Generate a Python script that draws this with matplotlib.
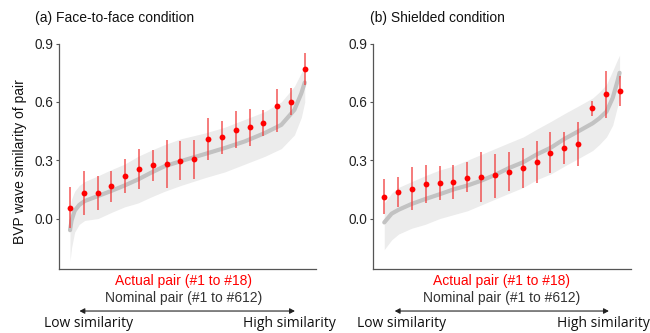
import numpy as np
import matplotlib
matplotlib.use('Agg')
import matplotlib.pyplot as plt

plt.rcParams['font.family'] = ['Liberation Sans', 'DejaVu Sans']

# nominal pairs (sorted), sampled along rank 1..612
rank_a = [1, 5, 13, 25, 39, 74, 107, 143, 178, 211, 247, 289, 352, 404, 456, 508, 551, 585, 603, 612]
nom_a = [-0.06, -0.01, 0.04, 0.07, 0.09, 0.116, 0.141, 0.170, 0.201, 0.235, 0.269, 0.295, 0.332, 0.363,
         0.397, 0.44, 0.482, 0.559, 0.644, 0.70]
nom_a_lo = [-0.22, -0.15, -0.07, -0.03, -0.01, 0.0, 0.03, 0.06, 0.08, 0.11, 0.14, 0.17, 0.21, 0.24,
            0.28, 0.32, 0.36, 0.43, 0.52, 0.60]
nom_a_hi = [0.06, 0.10, 0.14, 0.17, 0.19, 0.22, 0.25, 0.28, 0.32, 0.35, 0.38, 0.41, 0.44, 0.47,
            0.51, 0.55, 0.60, 0.68, 0.75, 0.78]

rank_b = [1, 20, 38, 72, 107, 145, 181, 217, 253, 289, 325, 362, 397, 434, 469, 506, 542, 559, 578, 594, 607, 612]
nom_b = [-0.02, 0.025, 0.045, 0.075, 0.10, 0.125, 0.15, 0.17, 0.195, 0.225, 0.26, 0.29, 0.33, 0.365,
         0.41, 0.45, 0.49, 0.515, 0.55, 0.62, 0.71, 0.75]
nom_b_lo = [-0.16, -0.11, -0.08, -0.05, -0.03, 0.0, 0.02, 0.04, 0.07, 0.10, 0.13, 0.16, 0.20, 0.23,
            0.27, 0.31, 0.35, 0.38, 0.42, 0.48, 0.58, 0.63]
nom_b_hi = [0.08, 0.13, 0.16, 0.19, 0.22, 0.25, 0.27, 0.30, 0.33, 0.36, 0.39, 0.42, 0.46, 0.50,
            0.54, 0.58, 0.62, 0.65, 0.69, 0.76, 0.82, 0.84]

# actual pairs #1..#18
act_a = [0.056, 0.133, 0.133, 0.167, 0.218, 0.256, 0.273, 0.281, 0.295, 0.305, 0.409, 0.419, 0.457,
         0.469, 0.491, 0.580, 0.602, 0.769]
act_a_lo = [-0.051, 0.017, 0.044, 0.085, 0.133, 0.153, 0.193, 0.157, 0.196, 0.205, 0.302, 0.334, 0.363,
            0.375, 0.423, 0.443, 0.532, 0.685]
act_a_hi = [0.162, 0.247, 0.218, 0.247, 0.307, 0.360, 0.353, 0.404, 0.397, 0.406, 0.516, 0.503, 0.554,
            0.566, 0.559, 0.666, 0.672, 0.852]

act_b = [0.112, 0.136, 0.153, 0.176, 0.181, 0.188, 0.210, 0.213, 0.222, 0.242, 0.261, 0.291, 0.338,
         0.363, 0.385, 0.571, 0.639, 0.656]
act_b_lo = [0.022, 0.061, 0.044, 0.078, 0.094, 0.099, 0.136, 0.085, 0.106, 0.141, 0.157, 0.182, 0.232,
            0.283, 0.269, 0.528, 0.518, 0.580]
act_b_hi = [0.201, 0.213, 0.264, 0.274, 0.268, 0.274, 0.290, 0.341, 0.334, 0.344, 0.363, 0.401, 0.445,
            0.443, 0.498, 0.607, 0.759, 0.731]

yticks = [0.0, 0.3, 0.6, 0.9]
titles = ['(a) Face-to-face condition', '(b) Shielded condition']


def panel(ax, rank, nom, lo, hi, act, alo, ahi):
    """
    One panel: nominal band + line, actual pairs with error bars
    """
    ax.fill_between(rank, lo, hi, color='#ececec', lw=0)
    ax.plot(rank, nom, color='#c2c2c2', lw=3.0, solid_capstyle='round')
    act = np.array(act)
    pos = np.linspace(1, 612, len(act))
    err = [act - np.array(alo), np.array(ahi) - act]
    ax.errorbar(pos, act, yerr=err, fmt='none', ecolor='#f03a3a', elinewidth=1.1, alpha=0.85)
    ax.plot(pos, act, 'o', color='#ff0000', ms=4.2, mec='none')
    ax.set_xlim(-29, 641)
    ax.set_ylim(-0.26, 0.9)
    ax.set_yticks(yticks)
    ax.set_yticklabels(['{:.1f}'.format(t) for t in yticks], fontsize=9.8, color='#222222')
    ax.set_xticks([])
    ax.tick_params(axis='y', length=2.5, width=0.8, pad=1.5, color='#555555')
    for s in ['top', 'right']:
        ax.spines[s].set_visible(False)
    for s in ['left', 'bottom']:
        ax.spines[s].set_color('#555555')
        ax.spines[s].set_linewidth(0.9)
    return None


fig = plt.figure(figsize=(6.5, 3.33), dpi=100)
ax1 = fig.add_axes([0.09, 0.192, 0.396, 0.677])
ax2 = fig.add_axes([0.5734, 0.192, 0.397, 0.677])
panel(ax1, rank_a, nom_a, nom_a_lo, nom_a_hi, act_a, act_a_lo, act_a_hi)
panel(ax2, rank_b, nom_b, nom_b_lo, nom_b_hi, act_b, act_b_lo, act_b_hi)

fig.text(0.054, 0.946, titles[0], fontsize=10, va='center', ha='left', color='#111111')
fig.text(0.570, 0.946, titles[1], fontsize=10, va='center', ha='left', color='#111111')
fig.text(0.031, 0.514, 'BVP wave similarity of pair', fontsize=10, rotation=90,
         va='center', ha='center', color='#111111')

for cx, a0, a1, lx, hx in [(0.283, 0.118, 0.458, 0.137, 0.445),
                           (0.772, 0.603, 0.941, 0.618, 0.929)]:
    fig.text(cx, 0.156, 'Actual pair (#1 to #18)', fontsize=10, color='#ff0000', ha='center', va='center')
    fig.text(cx, 0.106, 'Nominal pair (#1 to #612)', fontsize=10, color='#333333', ha='center', va='center')
    fig.add_artist(matplotlib.patches.FancyArrowPatch(
        (a0, 0.066), (a1, 0.066), transform=fig.transFigure,
        arrowstyle='<|-|>,head_length=3,head_width=1.6', color='#222222', lw=0.8))
    fig.text(lx, 0.030, 'Low similarity', fontsize=10, family=['Open Sans', 'DejaVu Sans'],
             color='#111111', ha='center', va='center')
    fig.text(hx, 0.030, 'High similarity', fontsize=10, family=['Open Sans', 'DejaVu Sans'],
             color='#111111', ha='center', va='center')

fig.savefig('out.png', dpi=100)
